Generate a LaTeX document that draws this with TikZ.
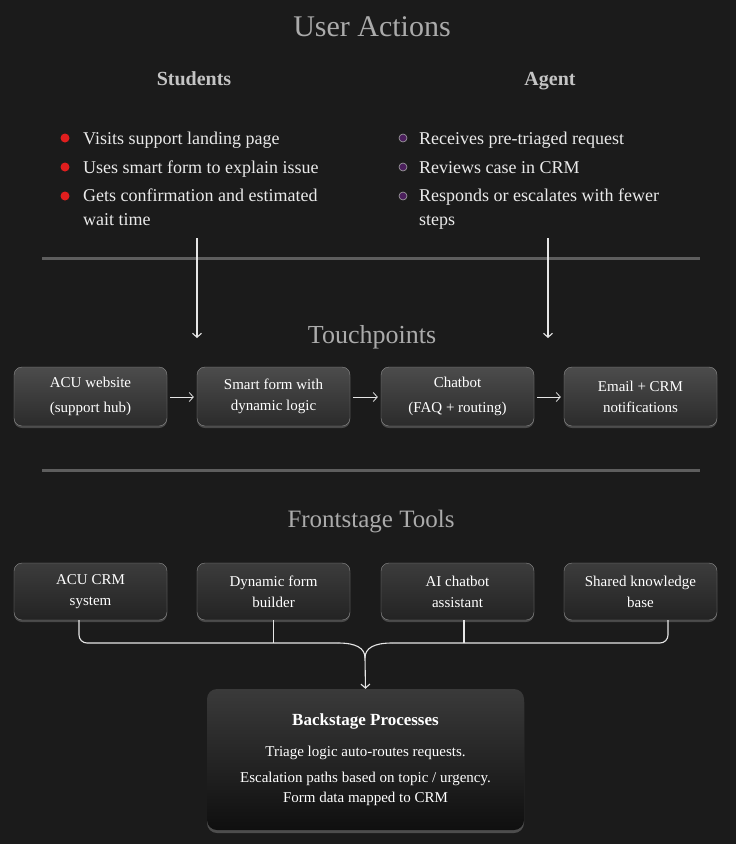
\documentclass[tikz,border=0pt]{standalone}
\usepackage{fontspec}
\setmainfont{Liberation Serif}
\usetikzlibrary{arrows.meta,shadows}

\definecolor{bg}{HTML}{1B1B1B}
\definecolor{titlegray}{HTML}{ABABAB}
\definecolor{headgray}{HTML}{C4C4C4}
\definecolor{itemtext}{HTML}{EAEAEA}
\definecolor{rule}{HTML}{5E5E5E}
\definecolor{dotred}{HTML}{E01E1E}
\definecolor{dotpurple}{HTML}{4B1F5C}
\definecolor{tptop}{HTML}{4C4C4C}
\definecolor{tpbot}{HTML}{2B2B2B}
\definecolor{tooltop}{HTML}{3C3C3C}
\definecolor{toolbot}{HTML}{232323}
\definecolor{backtop}{HTML}{3A3A3A}
\definecolor{backbot}{HTML}{0F0F0F}
\definecolor{linecol}{HTML}{E6E6E6}

\tikzset{
  heading/.style={text=titlegray,font=\fontsize{30}{36}\selectfont},
  subheading/.style={text=headgray,anchor=base,font=\fontsize{20}{24}\selectfont\bfseries},
  item/.style={text=itemtext,inner sep=0pt,align=left,font=\fontsize{18}{24}\selectfont},
  dot/.style={circle,inner sep=0pt,minimum size=9pt,fill=#1},
  box/.style={rounded corners=8pt,minimum width=153pt,align=center,text=white,
    font=\fontsize{15}{21}\selectfont,draw=black!45,
    drop shadow={shadow xshift=0pt,shadow yshift=-2pt,opacity=.45}},
  tpbox/.style={box,minimum height=59pt,top color=tptop,bottom color=tpbot},
  toolbox/.style={box,minimum height=57pt,top color=tooltop,bottom color=toolbot},
  conn/.style={draw=linecol,line width=1.1pt},
  flow/.style={conn,-{Straight Barb[length=4pt,width=9pt]}}
}

\begin{document}
\begin{tikzpicture}[x=1pt,y=-1pt]
  \fill[bg] (0,0) rectangle (736,844);

  % user actions
  \node[heading] (ua) at (372,27) {User Actions};
  \node[subheading] (stud) at (194,85) {Students};
  \node[subheading] (agent) at (550,85) {Agent};

  \node[dot=dotred] (sd1) at (65,138) {};
  \node[dot=dotred] (sd2) at (65,167) {};
  \node[dot=dotred] (sd3) at (65,196) {};
  \node[item,anchor=base west] (si1) at (83,144) {Visits support landing page};
  \node[item,anchor=base west] (si2) at (83,173) {Uses smart form to explain issue};
  \node[item,anchor=north west] (si3) at (83,188.5) {Gets confirmation and estimated\\wait time};

  \node[dot=dotpurple,draw=gray!70,line width=.6pt,minimum size=8pt] (ad1) at (403,138) {};
  \node[dot=dotpurple,draw=gray!70,line width=.6pt,minimum size=8pt] (ad2) at (403,167) {};
  \node[dot=dotpurple,draw=gray!70,line width=.6pt,minimum size=8pt] (ad3) at (403,196) {};
  \node[item,anchor=base west] (ai1) at (419,144) {Receives pre-triaged request};
  \node[item,anchor=base west] (ai2) at (419,173) {Reviews case in CRM};
  \node[item,anchor=north west] (ai3) at (419,188.5) {Responds or escalates with fewer\\steps};

  \draw[rule,line width=3pt] (42,258) -- (700,258);

  \coordinate (sfrom) at (197,238);
  \coordinate (sto) at (197,338);
  \coordinate (afrom) at (548,238);
  \coordinate (ato) at (548,338);
  \draw[flow] (sfrom) -- (sto);
  \draw[flow] (afrom) -- (ato);

  % touchpoints
  \node[heading,font=\fontsize{26}{30}\selectfont] (tp) at (372,337) {Touchpoints};
  \node[tpbox] (tp1) at (90.5,396.5) {ACU website\\[4pt](support hub)};
  \node[tpbox] (tp2) at (273.5,396.5) {Smart form with\\dynamic logic};
  \node[tpbox] (tp3) at (457.5,396.5) {Chatbot\\[4pt](FAQ + routing)};
  \node[tpbox] (tp4) at (640.5,396.5) {Email + CRM\\notifications};
  \foreach \a/\b in {tp1/tp2,tp2/tp3,tp3/tp4}
    \draw[flow,line width=.8pt,shorten <=3pt,shorten >=3pt] (\a.east |- 0,397) -- (\b.west |- 0,397);

  \draw[rule,line width=3pt] (42,470) -- (700,470);

  % frontstage tools
  \node[heading,font=\fontsize{25}{30}\selectfont] (ft) at (371,522) {Frontstage Tools};
  \node[toolbox] (tool1) at (90.5,591.5) {ACU CRM\\system};
  \node[toolbox] (tool2) at (273.5,591.5) {Dynamic form\\builder};
  \node[toolbox] (tool3) at (457.5,591.5) {AI chatbot\\assistant};
  \node[toolbox] (tool4) at (640.5,591.5) {Shared knowledge\\base};

  \coordinate (merge) at (365,658);
  \draw[conn,rounded corners=8pt] ([xshift=-11.5pt]tool1.south) |- (338,643);
  \draw[conn] (338,643) .. controls (356,643) and (365,648) .. (merge);
  \draw[conn,rounded corners=8pt] ([xshift=27.5pt]tool4.south) |- (392,643);
  \draw[conn] (392,643) .. controls (374,643) and (365,648) .. (merge);
  \draw[conn] (tool2.south) -- (tool2.south |- 0,643);
  \draw[conn] ([xshift=6.5pt]tool3.south) -- ([xshift=6.5pt]tool3.south |- 0,643);

  % backstage
  \node[rounded corners=10pt,minimum width=317pt,minimum height=141pt,
    top color=backtop,bottom color=backbot,align=center,text=white,
    font=\fontsize{15}{20}\selectfont,
    drop shadow={shadow xshift=0pt,shadow yshift=-3pt,opacity=.5}] (back) at (365.5,759.5)
    {{\fontsize{17}{20}\selectfont\bfseries Backstage Processes}\\[11pt]
     Triage logic auto-routes requests.\\[6pt]
     Escalation paths based on topic / urgency.\\
     Form data mapped to CRM};
  \draw[flow] (merge) -- (back.north);
\end{tikzpicture}
\end{document}
